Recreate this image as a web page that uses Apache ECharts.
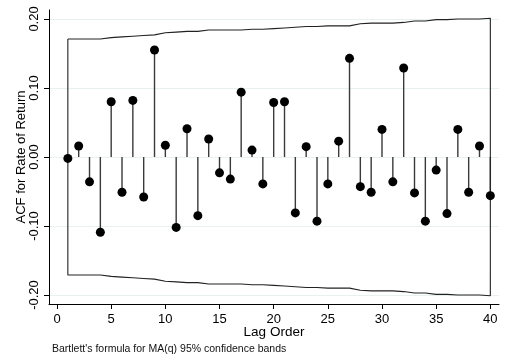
<!DOCTYPE html>
<html>
<head>
<meta charset="utf-8">
<script src="https://cdn.jsdelivr.net/npm/echarts@6/dist/echarts.min.js"></script>
<style>html,body{margin:0;padding:0;background:#fff}#c{width:508px;height:362px}</style>
</head>
<body>
<div id="c"></div>
<script>
const lags = [1,2,3,4,5,6,7,8,9,10,11,12,13,14,15,16,17,18,19,20,21,22,23,24,25,26,27,28,29,30,31,32,33,34,35,36,37,38,39,40];
const acf = [-0.002,0.016,-0.036,-0.109,0.080,-0.051,0.082,-0.058,0.155,0.017,-0.102,0.041,-0.085,0.026,-0.023,-0.032,0.094,0.010,-0.039,0.079,0.080,-0.081,0.015,-0.093,-0.039,0.023,0.143,-0.043,-0.051,0.040,-0.036,0.129,-0.052,-0.093,-0.019,-0.082,0.040,-0.051,0.016,-0.056];
const band = [0.171,0.171,0.171,0.171,0.173,0.174,0.175,0.176,0.177,0.180,0.181,0.182,0.182,0.184,0.184,0.184,0.184,0.185,0.185,0.186,0.187,0.188,0.189,0.189,0.190,0.190,0.190,0.193,0.194,0.194,0.194,0.195,0.197,0.197,0.199,0.199,0.200,0.200,0.200,0.201];
const yTicks = [-0.2,-0.1,0,0.1,0.2];
const xTicks = [0,5,10,15,20,25,30,35,40];
const yTitle = 'ACF for Rate of Return';
const xTitle = 'Lag Order';
const note = "Bartlett's formula for MA(q) 95% confidence bands";

const bandPath = [];
lags.forEach((l,i)=>bandPath.push([l, band[i]]));
for (let i = lags.length-1; i>=0; i--) bandPath.push([lags[i], -band[i]]);
bandPath.push([lags[0], band[0]]);

const chart = echarts.init(document.getElementById('c'), null, {renderer:'canvas'});
const font = 'Liberation Sans, Arial, sans-serif';
chart.setOption({
  animation:false,
  backgroundColor:'#ffffff',
  grid:{left:49, right:9, top:10, bottom:58, containLabel:false},
  xAxis:{
    type:'value', min:-0.74, max:40.8,
    name:xTitle, nameLocation:'middle', nameGap:21, nameMoveOverlap:false,
    nameTextStyle:{fontFamily:font, fontSize:13.5, color:'#000'},
    axisLine:{show:true, onZero:false, lineStyle:{color:'#000', width:1}},
    axisTick:{show:true, length:5, customValues:xTicks, lineStyle:{color:'#000'}},
    axisLabel:{customValues:xTicks, margin:9, fontFamily:font, fontSize:13, color:'#000'},
    splitLine:{show:false}
  },
  yAxis:{
    type:'value', min:-0.213, max:0.213,
    name:yTitle, nameLocation:'middle', nameGap:21, nameRotate:90, nameMoveOverlap:false,
    nameTextStyle:{fontFamily:font, fontSize:13, color:'#000'},
    axisLine:{show:true, onZero:false, lineStyle:{color:'#000', width:1}},
    axisTick:{show:true, length:5, customValues:yTicks, lineStyle:{color:'#000'}},
    axisLabel:{customValues:yTicks, rotate:90, margin:8, fontFamily:font, fontSize:13, color:'#000',
      formatter:v=>v.toFixed(2)},
    splitLine:{show:false}
  },
  series:[
    {type:'line', z:0, data:yTicks.map(v=>[0,v]), symbol:'none', lineStyle:{opacity:0}, silent:true,
      markLine:{silent:true, z:0, symbol:'none', label:{show:false},
        lineStyle:{color:'#e8f0f1', width:1, type:'solid'},
        data:yTicks.map(v=>({yAxis:v}))}},
    {type:'bar', z:2, data:lags.map((l,i)=>[l,acf[i]]), barWidth:1.4, itemStyle:{color:'#3a3a3a'}, silent:true},
    {type:'line', z:3, data:bandPath, symbol:'none', lineStyle:{color:'#222', width:1.1}, silent:true},
    {type:'scatter', z:5, data:lags.map((l,i)=>[l,acf[i]]), symbol:'circle', symbolSize:9, itemStyle:{color:'#000', opacity:1}, silent:true}
  ],
  graphic:[{type:'text', left:52, top:344, style:{text:note, fontFamily:font, fontSize:10.5, fill:'#111'}}]
});
</script>
</body>
</html>
